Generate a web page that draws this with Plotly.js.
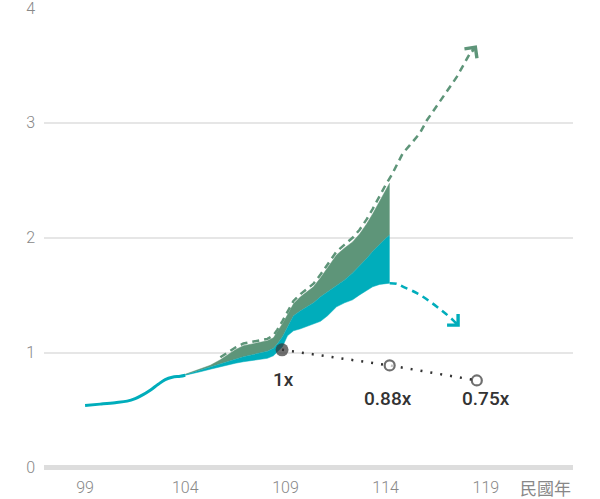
<!DOCTYPE html>
<html>
<head>
<meta charset="utf-8">
<script src="https://cdn.plot.ly/plotly-3.0.1.min.js"></script>
<style>html,body{margin:0;padding:0;background:#fff;}#chart{width:600px;height:499px;}</style>
</head>
<body>
<div id="chart"></div>
<script>
// ---- data (x in 民國年, y = multiple) ----
const baseYears = [99.0, 99.75, 100.5, 101.1, 101.5, 101.85, 102.25, 102.65, 103.0, 103.35, 103.75, 104.0];
const baseVals  = [0.54, 0.552, 0.565, 0.578, 0.600, 0.630, 0.673, 0.725, 0.765, 0.786, 0.795, 0.804];

const bandYears = [104.0, 104.4, 104.75, 105.25, 105.75, 106.1, 106.5, 106.9, 107.35, 107.75, 108.1, 108.4, 108.6, 108.85, 109.1, 109.4, 109.75, 110.1, 110.4, 110.75, 111.1, 111.55, 111.95, 112.35, 112.7, 113.05, 113.35, 113.7, 114.0, 114.2];
const lowVals   = [0.804, 0.817, 0.834, 0.856, 0.877, 0.895, 0.908, 0.921, 0.934, 0.943, 0.951, 0.973, 1.008, 1.051, 1.147, 1.19, 1.208, 1.229, 1.251, 1.273, 1.321, 1.399, 1.434, 1.46, 1.503, 1.538, 1.573, 1.594, 1.603, 1.605];
const midVals   = [0.808, 0.830, 0.847, 0.873, 0.904, 0.925, 0.947, 0.964, 0.982, 0.995, 1.012, 1.038, 1.077, 1.138, 1.216, 1.321, 1.364, 1.399, 1.434, 1.486, 1.529, 1.577, 1.633, 1.694, 1.755, 1.82, 1.881, 1.946, 1.994, 2.024];
const highVals  = [0.812, 0.838, 0.860, 0.890, 0.938, 0.977, 1.025, 1.06, 1.077, 1.086, 1.103, 1.129, 1.182, 1.251, 1.329, 1.425, 1.486, 1.529, 1.573, 1.651, 1.738, 1.851, 1.911, 1.964, 2.033, 2.12, 2.207, 2.32, 2.415, 2.476];

const upYears = [105.75, 106.1, 106.5, 106.9, 107.35, 107.75, 108.1, 108.4, 108.6, 108.85, 109.1, 109.4, 109.75, 110.1, 110.4, 110.75, 111.1, 111.55, 111.95, 112.35, 112.7, 113.05, 113.35, 113.7, 114.0, 114.3, 114.86, 115.21, 115.71, 116.06, 116.7, 117.55, 118.2, 118.45];
const upVals  = [0.96, 1.0, 1.045, 1.08, 1.095, 1.105, 1.12, 1.15, 1.2, 1.275, 1.355, 1.45, 1.51, 1.555, 1.6, 1.68, 1.77, 1.88, 1.94, 2.0, 2.07, 2.16, 2.25, 2.37, 2.46, 2.546, 2.737, 2.806, 2.911, 3.023, 3.182, 3.4, 3.603, 3.66];
const upTip = [118.55, 3.675];

const downYears = [114.2, 114.55, 114.86, 115.56, 116.21, 116.86, 117.35, 117.6];
const downVals  = [1.605, 1.6, 1.575, 1.518, 1.445, 1.358, 1.286, 1.24];
const downTip = [117.7, 1.225];

const ratioYears  = [108.83, 114.2, 118.55];
const ratioVals   = [1.025, 0.889, 0.758];
const ratioLabels = ['1x', '0.88x', '0.75x'];
const labelYears  = [108.9, 114.1, 119.0];
const labelVals   = [0.77, 0.60, 0.60];

const xTicks = [99, 104, 109, 114, 119];
const xTickText = ['99', '104', '109', '114', '119'];
const yTicks = [0, 1, 2, 3, 4];

const CYAN = '#00adbb';
const GREEN = '#5e9579';
const DARK = '#333333';
const FONT = 'Roboto, "Noto Sans", sans-serif';

const traces = [
  {x: baseYears, y: baseVals, mode: 'lines', line: {color: CYAN, width: 3, shape: 'spline'}, hoverinfo: 'skip'},
  {x: bandYears, y: lowVals, mode: 'lines', line: {color: CYAN, width: 0.5}, hoverinfo: 'skip'},
  {x: bandYears, y: midVals, mode: 'lines', fill: 'tonexty', fillcolor: CYAN, line: {color: CYAN, width: 0.5}, hoverinfo: 'skip'},
  {x: bandYears, y: highVals, mode: 'lines', fill: 'tonexty', fillcolor: GREEN, line: {color: GREEN, width: 0.5}, hoverinfo: 'skip'},
  {x: upYears, y: upVals, mode: 'lines', line: {color: GREEN, width: 2.5, dash: '7px,5px'}, hoverinfo: 'skip'},
  {x: downYears, y: downVals, mode: 'lines', line: {color: CYAN, width: 2.5, dash: '7px,5px', shape: 'spline'}, hoverinfo: 'skip'},
  {x: ratioYears, y: ratioVals, mode: 'lines', line: {color: DARK, width: 2.5, dash: '2px,8px'}, hoverinfo: 'skip'},
  {x: ratioYears, y: ratioVals, mode: 'markers', hoverinfo: 'skip',
   marker: {size: [13, 10, 10], color: [DARK, '#ffffff', '#ffffff'], line: {color: DARK, width: [0, 2.2, 2.2]}}}
];

const annotations = ratioLabels.map((t, i) => ({
  x: labelYears[i], y: labelVals[i], xref: 'x', yref: 'y', text: t, showarrow: false,
  font: {family: FONT, size: 19, color: DARK, weight: 500}
}));
annotations.push({
  x: upTip[0], y: upTip[1], xref: 'x', yref: 'y', ax: -6, ay: 8, text: '',
  showarrow: true, arrowhead: 4, arrowsize: 1.2, arrowwidth: 2.5, arrowcolor: GREEN
});
annotations.push({
  x: downTip[0], y: downTip[1], xref: 'x', yref: 'y', ax: -6, ay: -6, text: '',
  showarrow: true, arrowhead: 4, arrowsize: 1.2, arrowwidth: 2.5, arrowcolor: CYAN
});
annotations.push({
  x: 1, xref: 'paper', xanchor: 'right', y: 0, yref: 'paper', yanchor: 'middle', yshift: -16,
  text: '民國年', showarrow: false,
  font: {family: '"Noto Sans CJK TC", sans-serif', size: 17, color: '#888888'}
});

const layout = {
  width: 600, height: 499,
  margin: {l: 44, r: 27, t: 8, b: 28},
  paper_bgcolor: '#ffffff', plot_bgcolor: '#ffffff',
  showlegend: false,
  font: {family: FONT, color: '#888888'},
  xaxis: {
    range: [96.95, 123.35], tickvals: xTicks, ticktext: xTickText,
    showgrid: false, zeroline: false, showline: false, ticks: '',
    tickfont: {family: FONT, size: 16, color: '#888888', weight: 300},
    ticklabelstandoff: 5
  },
  yaxis: {
    range: [-0.03, 4.0], tickvals: yTicks,
    showgrid: true, gridcolor: '#e6e6e6', gridwidth: 2,
    zeroline: true, zerolinecolor: '#dddddd', zerolinewidth: 5,
    showline: false, ticks: '',
    tickfont: {family: FONT, size: 16, color: '#888888', weight: 300},
    ticklabelstandoff: 8, ticklabeloverflow: 'allow'
  },
  annotations: annotations
};

Plotly.newPlot('chart', traces, layout, {staticPlot: true, displayModeBar: false});
</script>
</body>
</html>
